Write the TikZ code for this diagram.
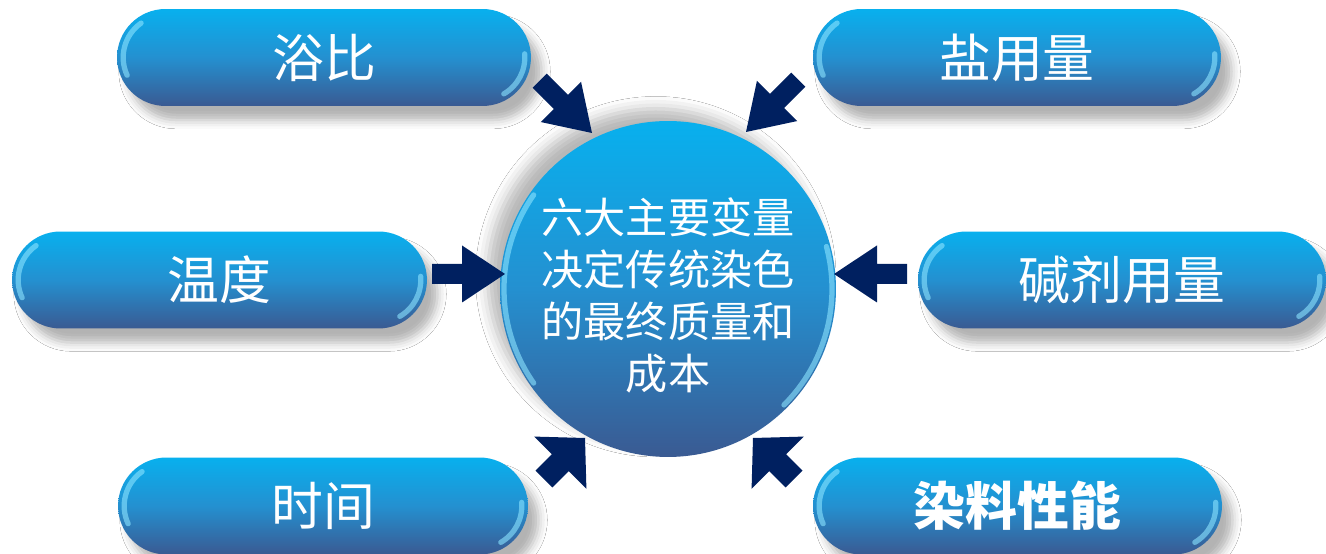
\documentclass[tikz,border=0pt]{standalone}
\usepackage{fontspec}
\newfontfamily\cjk{Noto Sans CJK SC}
\usetikzlibrary{shadows.blur,calc}
\definecolor{ctop}{RGB}{8,176,238}
\definecolor{cmid}{RGB}{36,144,208}
\definecolor{cbot}{RGB}{58,90,146}
\definecolor{navyarrow}{RGB}{0,32,96}
\definecolor{hlc}{RGB}{140,228,255}
\tikzset{
  pill/.style={minimum height=1.94cm, inner sep=0pt, rounded corners=0.97cm,
    top color=ctop, bottom color=cbot, middle color=cmid, text=white,
    font=\cjk\fontsize{29.5}{34}\selectfont,
    blur shadow={shadow xshift=6pt, shadow yshift=-8pt, shadow blur radius=5pt, shadow opacity=30}},
  hub/.style={circle, minimum size=6.72cm, inner sep=0pt,
    top color=ctop, bottom color=cbot, middle color=cmid,
    blur shadow={shadow xshift=-7pt, shadow yshift=7pt, shadow blur radius=7pt, shadow opacity=28}},
  hubtext/.style={text=white, align=center, font=\cjk\fontsize{24}{29.6}\selectfont, inner sep=0pt},
  hl/.style={line width=3pt, hlc, line cap=round, opacity=0.6},
  pics/blockarrow/.style n args={4}{code={
    \fill[navyarrow] (-#1,-#2) -- (-#3,-#2) -- (-#3,-#4) -- (0,0) -- (-#3,#4) -- (-#3,#2) -- (-#1,#2) -- cycle;}}
}
\begin{document}
\begin{tikzpicture}[x=0.02cm, y=0.02cm]
\useasboundingbox (0,0) rectangle (1326,554);
\fill[white] (0,0) rectangle (1326,554);

% boxes
\node[pill, minimum width=8.28cm] (yubi)   at (324,496.5)  {浴比};
\node[pill, minimum width=8.16cm] (yan)    at (1017,496.5) {盐用量};
\node[pill, minimum width=8.30cm] (wendu)  at (219.5,274)  {温度};
\node[pill, minimum width=8.16cm] (jianji) at (1122,274)   {碱剂用量};
\node[pill, minimum width=8.20cm] (shijian) at (323,48)    {时间};
\node[pill, minimum width=8.18cm, font=\cjk\bfseries\fontsize{29.5}{34}\selectfont] (ranliao) at (1017.5,48) {染料性能};

% highlights on the pills
\foreach \n in {yubi,yan,wendu,jianji,shijian,ranliao}{
  \draw[hl] ($(\n.west)+(48.5,0)$) ++(125:42) arc[start angle=125, end angle=205, radius=42];
  \draw[hl] ($(\n.east)+(-48.5,0)$) ++(-60:42) arc[start angle=-60, end angle=5, radius=42];
}

% central circle
\node[hub] (hub) at (668,265) {};
\draw[hl] (hub.center) ++(145:164) arc[start angle=145, end angle=215, radius=164];
\draw[hl] (hub.center) ++(-45:164) arc[start angle=-45, end angle=15, radius=164];
\node[hubtext] (hubt) at (668,258.5) {六大主要变量\\决定传统染色\\的最终质量和\\成本};

% block arrows
\coordinate (tL)  at (505,280);
\coordinate (tR)  at (834,280);
\coordinate (tTL) at (592,421);
\coordinate (tTR) at (746,422);
\coordinate (tBL) at (585,116);
\coordinate (tBR) at (753,116);
\pic[rotate=0]    at (tL)  {blockarrow={73}{10}{43}{28.5}};
\pic[rotate=180]  at (tR)  {blockarrow={73}{10}{43}{28.5}};
\pic[rotate=-45]  at (tTL) {blockarrow={74}{10}{44}{28.5}};
\pic[rotate=-135] at (tTR) {blockarrow={74}{10}{44}{28.5}};
\pic[rotate=45]   at (tBL) {blockarrow={58}{12}{35}{37}};
\pic[rotate=135]  at (tBR) {blockarrow={58}{12}{35}{37}};
\end{tikzpicture}
\end{document}
